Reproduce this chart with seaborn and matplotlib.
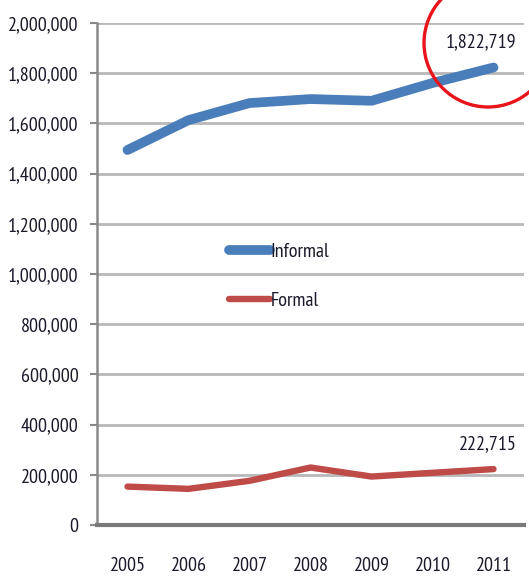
import matplotlib
matplotlib.use("Agg")
import matplotlib.pyplot as plt
from matplotlib.patches import Ellipse
from matplotlib.ticker import FuncFormatter, FixedLocator
import seaborn as sns
import pandas as pd

# Workers by sector, 2005-2011
years = ["2005", "2006", "2007", "2008", "2009", "2010", "2011"]
informal = [1494000, 1613000, 1681000, 1697000, 1690000, 1761000, 1822719]
formal = [153000, 144000, 176000, 229000, 193000, 208000, 222715]
series_names = ["Informal", "Formal"]
y_ticks = list(range(0, 2000001, 200000))

sns.set_theme(style="white")
plt.rcParams["font.family"] = ["PT Sans Narrow", "DejaVu Sans"]

W, H, DPI = 529, 578, 100
FS = 14.5
TXT = "#1a1a2a"
fig = plt.figure(figsize=(W / DPI, H / DPI), dpi=DPI)
ax = fig.add_axes([97 / W, 1 - 525 / H, (524 - 97) / W, (525 - 23) / H])

df = pd.DataFrame({
    "x": list(range(len(years))) * 2,
    "value": informal + formal,
    "series": [series_names[0]] * len(years) + [series_names[1]] * len(years),
})

colors = {"Informal": "#4A7EBB", "Formal": "#BE4B48"}
widths = {"Informal": 7.0, "Formal": 4.6}
for name in series_names:
    sub = df[df["series"] == name]
    sns.lineplot(data=sub, x="x", y="value", ax=ax, color=colors[name],
                 linewidth=widths[name], label=name, legend=False,
                 solid_capstyle="round", solid_joinstyle="round", zorder=3)

ax.set_xlim(-0.5, len(years) - 0.5)
ax.set_ylim(0, 2000000)
ax.set_xlabel("")
ax.set_ylabel("")

# Gridlines
for v in y_ticks[1:]:
    ax.axhline(v, color="#b8b8b8", lw=2.0, zorder=1)

ax.yaxis.set_major_locator(FixedLocator(y_ticks))
ax.yaxis.set_major_formatter(FuncFormatter(lambda v, p: f"{int(v):,}"))
ax.set_xticks(range(len(years)))
ax.set_xticklabels(years)
ax.set_xticks([i - 0.5 for i in range(len(years) + 1)], minor=True)
ax.tick_params(axis="x", which="major", length=0, pad=23, labelsize=FS,
               labelcolor=TXT)
ax.tick_params(axis="x", which="minor", length=10, width=1.5, color="#888888",
               direction="out")
ax.tick_params(axis="y", which="major", length=5, width=1.5, color="#888888",
               direction="out", pad=8.5, labelsize=FS, labelcolor=TXT)
ax.tick_params(axis="both", bottom=True, left=True)

for s in ["top", "right"]:
    ax.spines[s].set_visible(False)
ax.spines["left"].set_color("#8a8a8a")
ax.spines["left"].set_linewidth(1.8)
ax.spines["bottom"].set_color("#7a7a7a")
ax.spines["bottom"].set_linewidth(3.0)

# End-point value labels
ax.annotate(f"{informal[-1]:,}", xy=(len(years) - 1, informal[-1]),
            xytext=(23, 25), textcoords="offset pixels", ha="right",
            va="center", fontsize=FS, color=TXT)
ax.annotate(f"{formal[-1]:,}", xy=(len(years) - 1, formal[-1]),
            xytext=(23, 25), textcoords="offset pixels", ha="right",
            va="center", fontsize=FS, color=TXT)

# Highlight ring around the latest informal figure
ring = Ellipse((488 / W, 1 - 43 / H), 128 / W, 128 / H,
               transform=fig.transFigure, fill=False, edgecolor="#E8131B",
               linewidth=2.4, clip_on=False, zorder=5)
fig.patches.append(ring)

leg = ax.legend(loc="upper left", bbox_to_anchor=(229 / W, 1 - 243 / H),
                bbox_transform=fig.transFigure, frameon=False,
                fontsize=FS, handlelength=2.05, handletextpad=0.0,
                labelspacing=1.55, borderpad=0, borderaxespad=0)
for t in leg.get_texts():
    t.set_color(TXT)

fig.savefig("out.png", dpi=DPI, facecolor="white")
